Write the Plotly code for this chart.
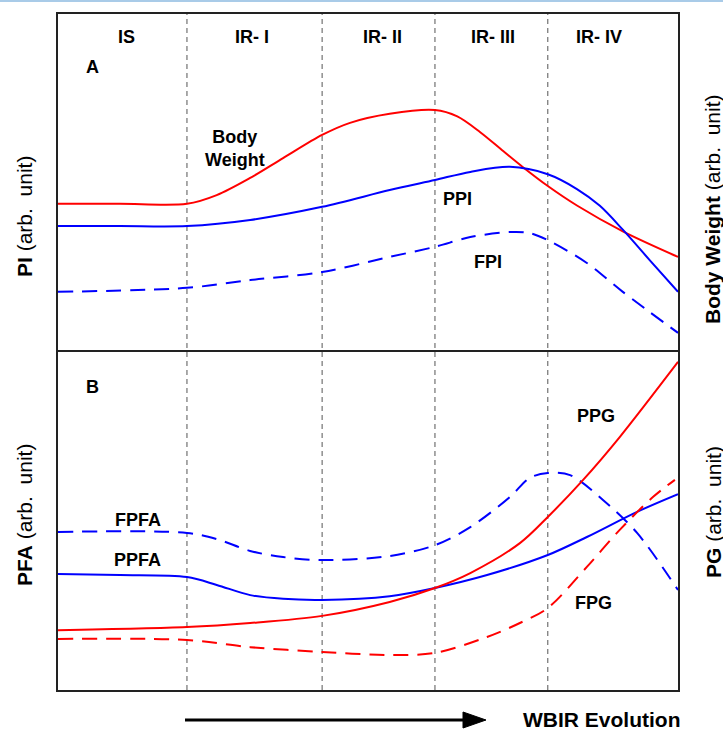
import plotly.graph_objects as go

# ---------------- data (arbitrary units) ----------------
stage_bounds = [20.8, 42.6, 60.8, 79.0]
stage_labels = ["IS", "IR- I", "IR- II", "IR- III", "IR- IV"]
stage_label_x = [11.1, 31.3, 52.3, 70.2, 87.3]

# Panel A
bw_x = [0, 10, 20.8, 25.6, 31.0, 36.3, 42.6, 47.1, 53.5, 60.8, 64.4, 68.1, 71.8, 75.0, 79.0, 83.7, 91.1, 100]
bw_y = [43.5, 43.5, 43.5, 46.1, 51.2, 57.1, 64.0, 67.6, 70.3, 71.4, 69.5, 64.8, 59.2, 54.4, 48.8, 43.0, 35.3, 27.7]

ppi_x = [0, 10, 20.8, 31.0, 42.6, 53.5, 60.8, 66.5, 72.9, 79.0, 83.7, 87.4, 91.1, 95.5, 100]
ppi_y = [36.9, 36.9, 36.9, 38.7, 42.6, 47.6, 50.6, 53.0, 54.5, 52.3, 47.9, 42.9, 35.8, 26.6, 17.3]

fpi_x = [0, 20.8, 31.0, 42.6, 53.5, 60.8, 66.5, 72.9, 76.1, 79.0, 85.3, 91.1, 100]
fpi_y = [17.3, 18.5, 20.8, 23.2, 27.7, 30.7, 33.6, 35.1, 34.8, 32.7, 25.9, 17.3, 5.1]

# Panel B
fpfa_x = [0, 20.8, 25.6, 31.0, 36.3, 42.6, 53.5, 60.8, 66.5, 72.9, 76.1, 79.0, 82.6, 87.9, 93.4, 100]
fpfa_y = [46.5, 46.2, 44.4, 40.9, 39.1, 38.2, 39.4, 42.6, 47.9, 56.8, 62.4, 63.8, 63.2, 55.9, 46.2, 29.4]

ppfa_x = [0, 10, 20.8, 25.6, 31.0, 36.3, 42.6, 53.5, 60.8, 69.2, 79.0, 85.3, 93.4, 100]
ppfa_y = [34.1, 33.8, 33.2, 30.9, 27.9, 26.8, 26.5, 27.6, 30.0, 33.8, 39.7, 45.0, 52.4, 57.6]

ppg_x = [0, 20.8, 31.0, 42.6, 53.5, 60.8, 66.5, 74.5, 79.0, 84.7, 90.6, 100]
ppg_y = [17.6, 18.5, 19.7, 21.8, 25.9, 30.0, 34.4, 43.2, 50.9, 61.8, 74.4, 96.5]

fpg_x = [0, 20.8, 31.0, 42.6, 53.5, 60.8, 69.2, 74.5, 79.0, 85.3, 90.6, 96.0, 99.5]
fpg_y = [15.0, 14.7, 12.6, 11.2, 10.3, 10.9, 15.6, 19.7, 24.1, 36.2, 47.1, 56.8, 61.8]

# ---------------- figure ----------------
RED = "#ff0000"
BLUE = "#0000ff"
FONT = "Arial, Liberation Sans, sans-serif"
W, H = 723, 733
ML, MR, MT, MB = 58, 45, 14, 43
SPLIT = 0.503

fig = go.Figure()

def add_line(x, y, color, dash, yaxis, name):
    fig.add_trace(go.Scatter(
        x=x, y=y, mode="lines", name=name, xaxis="x" if yaxis == "y" else "x2", yaxis=yaxis,
        line=dict(color=color, width=2, dash=dash, shape="spline", smoothing=0.9),
        hoverinfo="skip", showlegend=False))

DASH = "15px,9px"
add_line(bw_x, bw_y, RED, "solid", "y2", "Body Weight")
add_line(ppi_x, ppi_y, BLUE, "solid", "y2", "PPI")
add_line(fpi_x, fpi_y, BLUE, DASH, "y2", "FPI")
add_line(fpfa_x, fpfa_y, BLUE, DASH, "y", "FPFA")
add_line(ppfa_x, ppfa_y, BLUE, "solid", "y", "PPFA")
add_line(ppg_x, ppg_y, RED, "solid", "y", "PPG")
add_line(fpg_x, fpg_y, RED, DASH, "y", "FPG")

axis_common = dict(showgrid=False, zeroline=False, showticklabels=False, ticks="",
                   showline=True, linecolor="#222", linewidth=2)

fig.update_layout(
    width=W, height=H,
    margin=dict(l=ML, r=MR, t=MT, b=MB),
    paper_bgcolor="white", plot_bgcolor="white",
    font=dict(family=FONT, color="black"),
    xaxis=dict(range=[0, 100], domain=[0, 1], anchor="y", mirror=False, **axis_common),
    xaxis2=dict(range=[0, 100], domain=[0, 1], anchor="y2", matches="x", mirror=True, **axis_common),
    yaxis=dict(range=[0, 100], domain=[0, SPLIT], anchor="x", mirror=True, **axis_common),
    yaxis2=dict(range=[0, 100], domain=[SPLIT, 1], anchor="x2", mirror=True, **axis_common),
)

# stage boundaries
for b in stage_bounds:
    fig.add_shape(type="line", xref="x", yref="paper", x0=b, x1=b, y0=0, y1=1,
                  line=dict(color="#555", width=1, dash="5px,4px"), layer="below")

ann = []
LBL = dict(family=FONT, size=18, color="black")
for lx, t in zip(stage_label_x, stage_labels):
    ann.append(dict(x=lx, y=93.2, xref="x2", yref="y2", text=f"<b>{t}</b>", showarrow=False, font=LBL))

curve_labels = [
    (5.5, 84.2, "A", "y2"), (28.5, 60.1, "Body<br>Weight", "y2"), (64.5, 44.9, "PPI", "y2"),
    (69.4, 26.2, "FPI", "y2"), (5.5, 89.1, "B", "y"), (12.9, 50.0, "FPFA", "y"),
    (12.9, 38.2, "PPFA", "y"), (86.8, 80.6, "PPG", "y"), (86.3, 25.6, "FPG", "y"),
]
for lx, ly, t, ya in curve_labels:
    ann.append(dict(x=lx, y=ly, xref="x2" if ya == "y2" else "x", yref=ya,
                    text=f"<b>{t}</b>", showarrow=False, font=LBL))

def px2paper_x(px):
    return (px - ML) / (W - ML - MR)

def px2paper_y(py):
    return (H - MB - py) / (H - MT - MB)

TITLE = dict(family=FONT, size=21, color="black")
axis_titles = [
    (24, 217, "<b>PI</b> (arb.  unit)"),
    (24, 515, "<b>PFA</b> (arb.  unit)"),
    (713, 209, "<b>Body Weight</b> (arb.  unit)"),
    (713, 512, "<b>PG</b> (arb.  unit)"),
]
for tx, ty, t in axis_titles:
    ann.append(dict(x=px2paper_x(tx), y=px2paper_y(ty), xref="paper", yref="paper",
                    text=t, textangle=-90, showarrow=False, font=TITLE,
                    xanchor="center", yanchor="middle"))

ann.append(dict(x=px2paper_x(601), y=px2paper_y(720), xref="paper", yref="paper",
                text="<b>WBIR Evolution</b>", showarrow=False,
                font=dict(family=FONT, size=21, color="black"),
                xanchor="center", yanchor="middle"))
fig.update_layout(annotations=ann)

# arrow under the x axis
ya = px2paper_y(720)
fig.add_shape(type="line", xref="paper", yref="paper",
              x0=px2paper_x(185), x1=px2paper_x(468), y0=ya, y1=ya,
              line=dict(color="black", width=3))
half = 8 / (H - MT - MB)
fig.add_shape(type="path", xref="paper", yref="paper",
              path=f"M {px2paper_x(463)} {ya - half} L {px2paper_x(486)} {ya} L {px2paper_x(463)} {ya + half} Z",
              fillcolor="black", line=dict(color="black", width=1))

# thin light-blue rule at the very top of the picture
fig.add_shape(type="line", xref="paper", yref="paper",
              x0=px2paper_x(0), x1=px2paper_x(W), y0=px2paper_y(1), y1=px2paper_y(1),
              line=dict(color="#a9cbe8", width=2))

fig.write_html("out.html", config={"displayModeBar": False},
               post_script="document.body.style.margin='0';document.body.style.overflow='hidden';")
